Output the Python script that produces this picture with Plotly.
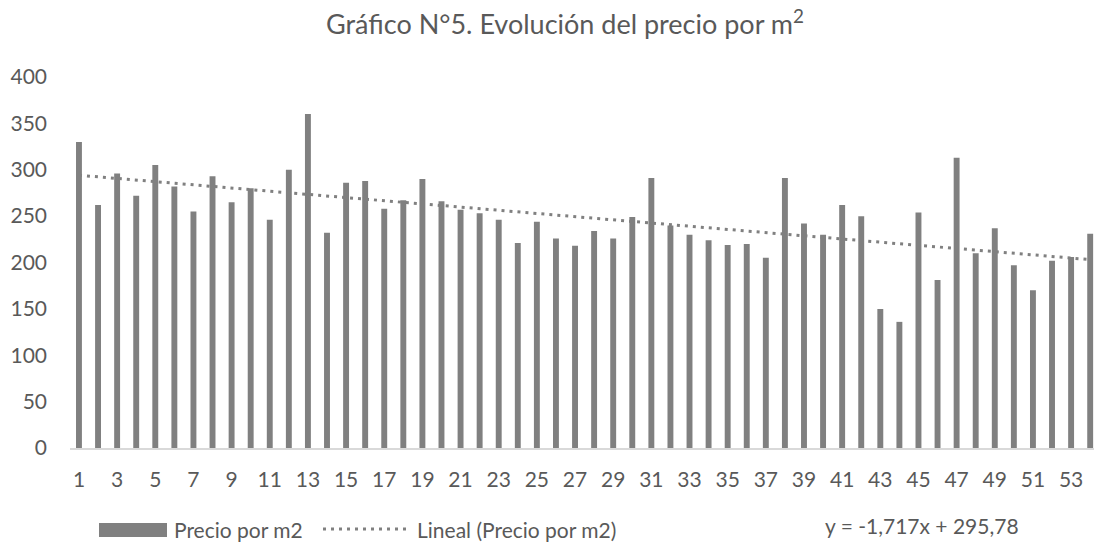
import plotly.graph_objects as go

# ---- data ----
categories = list(range(1, 55))
precio_m2 = [330, 262, 296, 272, 305, 282, 255, 293, 265, 280,
             246, 300, 360, 232, 286, 288, 258, 267, 290, 266,
             257, 253, 246, 221, 244, 226, 218, 234, 226, 249,
             291, 240, 230, 224, 219, 220, 205, 291, 242, 230,
             262, 250, 150, 136, 254, 181, 313, 210, 237, 197,
             170, 202, 206, 231]
trend_slope = -1.717
trend_intercept = 295.78
y_ticks = [0, 50, 100, 150, 200, 250, 300, 350, 400]
x_ticks = list(range(1, 55, 2))

title_text = "Gráfico N°5. Evolución del precio por m<sup>2</sup>"
series_name = "Precio por m2"
trend_name = "Lineal (Precio por m2)"
equation_text = "y = -1,717x + 295,78"

# ---- style ----
W_FIG, H_FIG = 1094, 542
L, R, T, B = 70, 0, 77, 94
PW, PH = W_FIG - L - R, H_FIG - T - B
GREY = "#808080"
TXT = "#595959"
FONT = "Lato"

def px_x(p):
    return (p - L) / PW

def px_y(p):
    return (H_FIG - B - p) / PH

trend_y = [trend_slope * x + trend_intercept for x in categories]

fig = go.Figure()
fig.add_trace(go.Bar(x=categories, y=precio_m2, width=0.31,
                     marker=dict(color=GREY, line=dict(width=0)),
                     name=series_name, showlegend=False))
fig.add_trace(go.Scatter(x=categories, y=trend_y, mode="lines",
                         line=dict(color=GREY, width=3, dash="3px,5px"),
                         name=trend_name, showlegend=False))

shapes = [
    dict(type="rect", xref="paper", yref="paper",
         x0=px_x(99), x1=px_x(167), y0=px_y(537), y1=px_y(523),
         fillcolor=GREY, line=dict(width=0)),
    dict(type="line", xref="paper", yref="paper",
         x0=px_x(323), x1=px_x(407), y0=px_y(529), y1=px_y(529),
         line=dict(color=GREY, width=3, dash="3px,5px")),
]
annotations = [
    dict(text=series_name, xref="paper", yref="paper", x=px_x(172), y=px_y(529),
         xanchor="left", yanchor="middle", showarrow=False,
         font=dict(family=FONT, size=21, color=TXT)),
    dict(text=trend_name, xref="paper", yref="paper", x=px_x(415), y=px_y(529),
         xanchor="left", yanchor="middle", showarrow=False,
         font=dict(family=FONT, size=21, color=TXT)),
    dict(text=equation_text, xref="paper", yref="paper", x=px_x(823), y=px_y(525),
         xanchor="left", yanchor="middle", showarrow=False,
         font=dict(family=FONT, size=21, color=TXT)),
]

fig.update_layout(
    width=W_FIG, height=H_FIG,
    margin=dict(l=L, r=R, t=T, b=B, pad=0),
    paper_bgcolor="white", plot_bgcolor="white",
    title=dict(text=title_text, xref="container", yref="container",
               x=565 / W_FIG, y=1 - 25 / H_FIG, xanchor="center", yanchor="middle",
               font=dict(family=FONT, size=27, color=TXT)),
    font=dict(family=FONT, color=TXT),
    shapes=shapes, annotations=annotations,
    showlegend=False,
)
fig.update_xaxes(range=[0.53, 54.2], tickmode="array", tickvals=x_ticks,
                 ticktext=[str(v) for v in x_ticks],
                 showgrid=False, zeroline=False, showline=True,
                 linecolor="#d9d9d9", linewidth=1.5, ticks="",
                 ticklabelstandoff=12,
                 tickfont=dict(family=FONT, size=21, color=TXT))
fig.update_yaxes(range=[0, 400], tickmode="array", tickvals=y_ticks,
                 showgrid=False, zeroline=False, showline=False, ticks="",
                 ticklabelstandoff=22,
                 tickfont=dict(family=FONT, size=21, color=TXT))

fig.write_html("out.html", config={"displayModeBar": False},
               post_script="document.body.style.margin='0';document.body.style.overflow='hidden';")
